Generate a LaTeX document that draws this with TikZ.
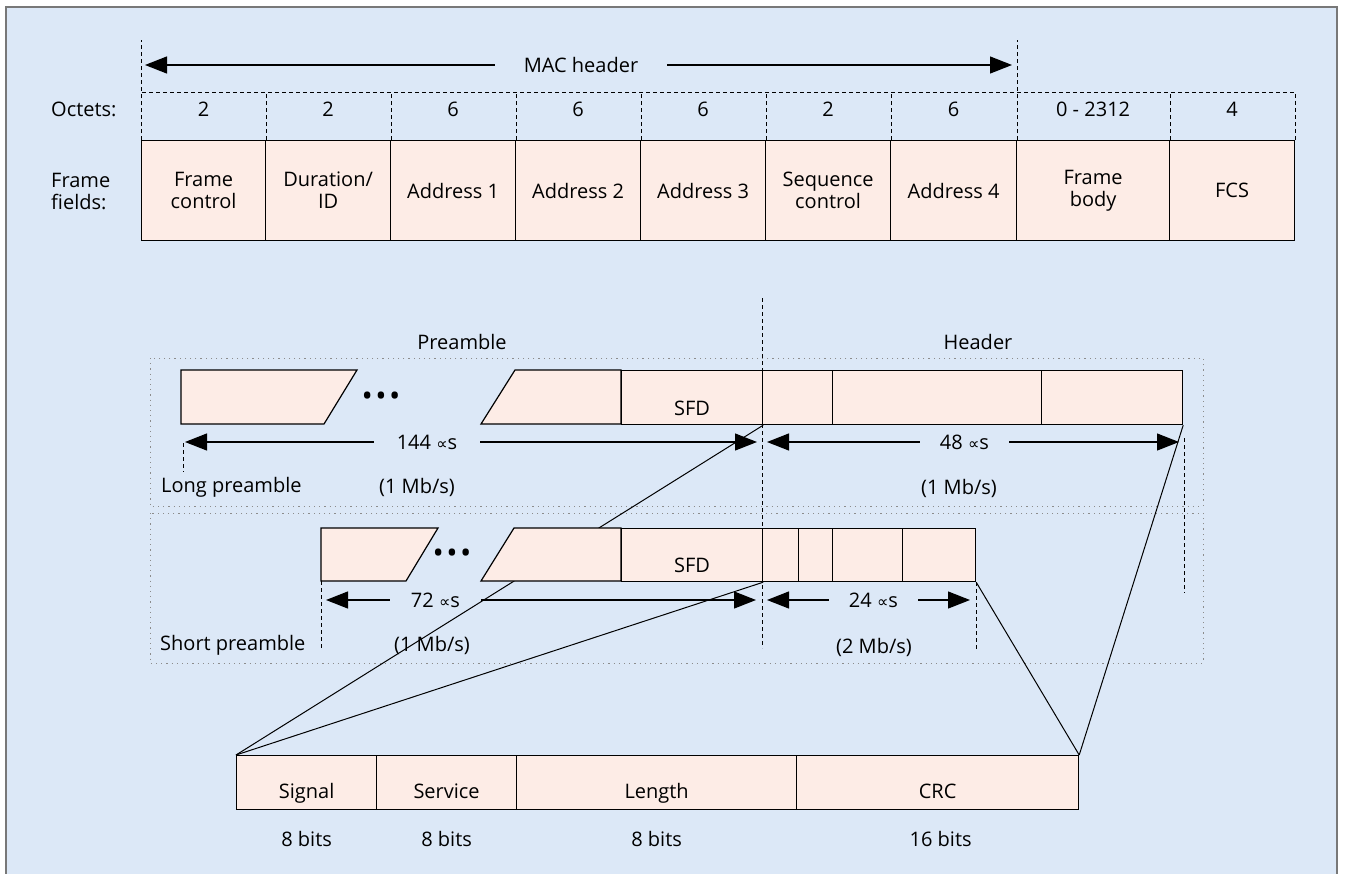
\documentclass[tikz,border=0pt]{standalone}
\usepackage{fontspec}
\setmainfont{Open Sans}
\newfontfamily\symfont{DejaVu Sans}
\usetikzlibrary{arrows.meta,calc}
\definecolor{bgblue}{RGB}{220,232,247}
\definecolor{boxfill}{RGB}{253,236,230}
\definecolor{framegray}{RGB}{120,120,120}
\definecolor{dotgray}{RGB}{140,140,140}
\newcommand{\mus}{{\symfont\fontsize{16}{16}\selectfont ∝}s}
\newcommand{\bigdots}{{\fontsize{30}{30}\selectfont •\hspace{2.5pt}•\hspace{2.5pt}•}}
\pgfdeclarelayer{back}
\pgfdeclarelayer{conn}
\pgfsetlayers{back,conn,main}
\begin{document}
\begin{tikzpicture}[x=1pt,y=-1pt,
  every node/.style={font=\fontsize{20}{22}\selectfont, inner sep=0pt},
  fbox/.style={draw, fill=boxfill, line width=1.2pt, anchor=north west, minimum height=100pt, align=center},
  sbox/.style={draw, fill=boxfill, line width=1.2pt, anchor=north west, inner sep=0pt},
  pbox/.style={draw, fill=boxfill, line width=1.2pt},
  dashline/.style={line width=1pt, dash pattern=on 4pt off 3pt},
  dotbox/.style={draw=dotgray, line width=1pt, dash pattern=on 1.2pt off 4pt},
  arr/.style={line width=1.2pt, -{Triangle[length=22pt,width=17pt]}},
  conn/.style={line width=1pt},
  lowtxt/.style={text depth=0pt, text height=#1},
]
\useasboundingbox (0,0) rectangle (1351,873);
\begin{pgfonlayer}{back}
\fill[white] (0,0) rectangle (1351,873);
\draw[fill=bgblue, draw=framegray, line width=1.5pt] (6,7) rectangle (1337,890);
\draw[dotbox] (150,358) rectangle (1203,506);
\draw[dotbox] (150,513) rectangle (1203,663);
\draw[dashline] (762,298) -- (762,648);
\end{pgfonlayer}

% ---------- MAC frame ----------
\node[fbox, minimum width=124pt] (f1) at (141,140) {Frame\\control};
\node[fbox, minimum width=125pt] (f2) at (265,140) {Duration/\\ID};
\node[fbox, minimum width=125pt] (f3) at (390,140) {Address 1};
\node[fbox, minimum width=125pt] (f4) at (515,140) {Address 2};
\node[fbox, minimum width=125pt] (f5) at (640,140) {Address 3};
\node[fbox, minimum width=125pt] (f6) at (765,140) {Sequence\\control};
\node[fbox, minimum width=126pt] (f7) at (890,140) {Address 4};
\node[fbox, minimum width=153pt] (f8) at (1016,140) {Frame\\body};
\node[fbox, minimum width=125pt] (f9) at (1169,140) {FCS};

\draw[dashline] (f1.north west) -- ++(0,-100);
\draw[dashline] (f7.north east) -- ++(0,-100);
\draw[dashline] (f1.north west) -- ++(0,-48) -| (f9.north east);
\foreach \f in {f1,f2,f3,f4,f5,f6,f7,f8}
  \draw[dashline] (\f.north east) -- ++(0,-48);

\node (o1) at ($(f1.north)+(0,-31)$) {2};
\node (o2) at ($(f2.north)+(0,-31)$) {2};
\node (o3) at ($(f3.north)+(0,-31)$) {6};
\node (o4) at ($(f4.north)+(0,-31)$) {6};
\node (o5) at ($(f5.north)+(0,-31)$) {6};
\node (o6) at ($(f6.north)+(0,-31)$) {2};
\node (o7) at ($(f7.north)+(0,-31)$) {6};
\node (o8) at ($(f8.north)+(0,-31)$) {0 - 2312};
\node (o9) at ($(f9.north)+(0,-31)$) {4};

\node[anchor=west] (octets) at (51,109) {Octets:};
\node[anchor=west, align=left] (ffields) at (51,191) {Frame\\fields:};

\coordinate (macL) at (145,65);
\coordinate (macR) at (1012,65);
\node[minimum width=172pt] (mac) at (581,65) {MAC header};
\draw[arr] (mac.west) -- (macL);
\draw[arr] (mac.east) -- (macR);

% ---------- PLCP ----------
\node (pre) at (462,342) {Preamble};
\node (hdr) at (978,342) {Header};

% long preamble boxes
\path[pbox] (181,370) -- (357,370) -- (324,424) -- (181,424) -- cycle;
\node (ldots) at (381,399) {\bigdots};
\path[pbox] (515,370) -- (621,370) -- (621,424) -- (481,424) -- cycle;
\node[sbox, minimum width=141pt, minimum height=54pt, inner ysep=9.5pt, lowtxt=35pt] (lsfd) at (621,370) {SFD};
\node[sbox, minimum width=70pt, minimum height=54pt] (lh1) at (762,370) {};
\node[sbox, minimum width=209pt, minimum height=54pt] (lh2) at (832,370) {};
\node[sbox, minimum width=141pt, minimum height=54pt] (lh3) at (1041,370) {};

% short preamble boxes
\path[pbox] (321,528) -- (438,528) -- (406,581) -- (321,581) -- cycle;
\node (sdots) at (452,556) {\bigdots};
\path[pbox] (514,528) -- (621,528) -- (621,581) -- (481,581) -- cycle;
\node[sbox, minimum width=141pt, minimum height=53pt, inner ysep=9pt, lowtxt=35pt] (ssfd) at (621,528) {SFD};
\node[sbox, minimum width=36pt, minimum height=53pt] (sh1) at (762,528) {};
\node[sbox, minimum width=34pt, minimum height=53pt] (sh2) at (798,528) {};
\node[sbox, minimum width=70pt, minimum height=53pt] (sh3) at (832,528) {};
\node[sbox, minimum width=73pt, minimum height=53pt] (sh4) at (902,528) {};

% long arrows
\coordinate (la1) at (185,442);
\coordinate (la2) at (757,442);
\node[minimum width=106pt] (l144) at (427,442) {144 \mus};
\draw[arr] (l144.west) -- (la1);
\draw[arr] (l144.east) -- (la2);
\coordinate (lb1) at (767,442);
\coordinate (lb2) at (1179,442);
\node[minimum width=89pt] (l48) at (964.5,442) {48 \mus};
\draw[arr] (l48.west) -- (lb1);
\draw[arr] (l48.east) -- (lb2);

% short arrows
\coordinate (sa1) at (326,600);
\coordinate (sa2) at (756,600);
\node[minimum width=91pt] (s72) at (435.5,600) {72 \mus};
\draw[arr] (s72.west) -- (sa1);
\draw[arr] (s72.east) -- (sa2);
\coordinate (sb1) at (767,600);
\coordinate (sb2) at (970,600);
\node[minimum width=89pt] (s24) at (873.5,600) {24 \mus};
\draw[arr] (s24.west) -- (sb1);
\draw[arr] (s24.east) -- (sb2);

% extra dashed ticks
\coordinate (lpstart) at (183,443);
\coordinate (lpend) at (183,472);
\draw[dashline] (lpstart) -- (lpend);
\draw[dashline] (lh3.south east) ++(1,13) -- ++(0,155);
\draw[dashline] (321,581) -- (321,650);
\draw[dashline] (sh4.south east) -- ++(0,69);

\node[anchor=west] (lpre) at (161,487) {Long preamble};
\node (lr1) at (417,487) {(1 Mb/s)};
\node (lr2) at (959,488) {(1 Mb/s)};
\node[anchor=west] (spre) at (160,645) {Short preamble};
\node (sr1) at (432,645) {(1 Mb/s)};
\node (sr2) at (874,647) {(2 Mb/s)};

% ---------- PLCP header fields ----------
\node[sbox, minimum width=140pt, minimum height=54pt, inner ysep=11.5pt, lowtxt=31pt] (sig) at (236,755) {Signal};
\node[sbox, minimum width=140pt, minimum height=54pt, inner ysep=11.5pt, lowtxt=31pt] (svc) at (376,755) {Service};
\node[sbox, minimum width=280pt, minimum height=54pt, inner ysep=11.5pt, lowtxt=31pt] (len) at (516,755) {Length};
\node[sbox, minimum width=282pt, minimum height=54pt, inner ysep=11.5pt, lowtxt=31pt] (crc) at (796,755) {CRC};

\node (b1) at ($(sig.south)+(0,29)$) {8 bits};
\node (b2) at ($(svc.south)+(0,29)$) {8 bits};
\node (b3) at ($(len.south)+(0,29)$) {8 bits};
\node (b4) at ($(crc.south)+(3,29)$) {16 bits};

\begin{pgfonlayer}{conn}
\draw[conn] (lsfd.south east) -- (sig.north west);
\draw[conn] (ssfd.south east) -- (sig.north west);
\draw[conn] (sh4.south east) -- (crc.north east);
\draw[conn] (lh3.south east) -- (crc.north east);
\end{pgfonlayer}
\end{tikzpicture}
\end{document}
